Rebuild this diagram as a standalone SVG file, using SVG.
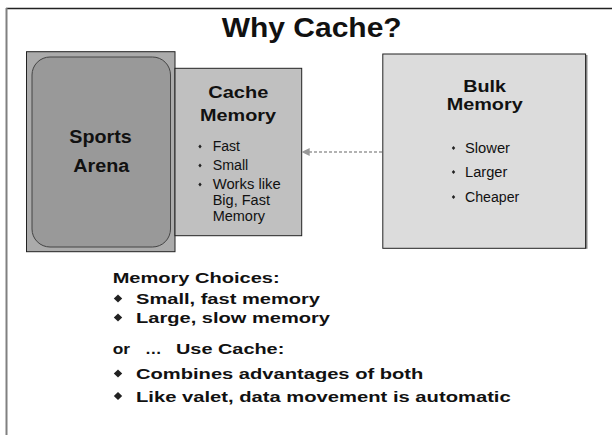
<svg xmlns="http://www.w3.org/2000/svg" width="612" height="435" viewBox="0 0 612 435">
<defs>
<style>
.t{font-family:"Liberation Sans",Arial,sans-serif;fill:#111}
.b{font-weight:bold}
.box{stroke:#222;stroke-width:1}
.bul{fill:#222}
</style>
<marker id="ah" viewBox="0 0 10 10" refX="9" refY="5" markerWidth="8" markerHeight="8" markerUnits="userSpaceOnUse" orient="auto">
<path d="M0,0 L10,5 L0,10 z" fill="#999"/>
</marker>
<polygon id="dm" points="0,-4 4.2,0 0,4 -4.2,0"/>
<polygon id="sd" points="0,-2.1 1.7,0 0,2.1 -1.7,0"/>
</defs>
<rect width="612" height="435" fill="#fff"/>
<g id="frame">
<line x1="6" y1="8.5" x2="612" y2="8.5" stroke="#222" stroke-width="1.5"/>
<line x1="6.5" y1="8" x2="6.5" y2="435" stroke="#808080" stroke-width="2"/>
</g>
<text id="title" class="t b" x="311.7" y="36.7" font-size="27" text-anchor="middle" textLength="180" lengthAdjust="spacingAndGlyphs">Why Cache?</text>
<g id="sports">
<rect class="box" x="26.5" y="51.7" width="148.5" height="200" fill="#ababab"/>
<rect x="32" y="57" width="138.5" height="190" rx="18" fill="#999" stroke="#444" stroke-width="1"/>
<text class="t b" x="100.5" y="142.7" font-size="17.5" text-anchor="middle" textLength="62.4" lengthAdjust="spacingAndGlyphs">Sports</text>
<text class="t b" x="101.3" y="172.3" font-size="17.5" text-anchor="middle" textLength="56" lengthAdjust="spacingAndGlyphs">Arena</text>
</g>
<g id="cache">
<rect class="box" x="175" y="68.3" width="126.7" height="167.4" fill="#c0c0c0"/>
<text class="t b" x="238.3" y="98.3" font-size="16.5" text-anchor="middle" textLength="60" lengthAdjust="spacingAndGlyphs">Cache</text>
<text class="t b" x="238" y="121" font-size="16.5" text-anchor="middle" textLength="76" lengthAdjust="spacingAndGlyphs">Memory</text>
<use href="#sd" class="bul" x="200" y="146.5"/>
<use href="#sd" class="bul" x="200" y="165.5"/>
<use href="#sd" class="bul" x="200" y="184.5"/>
<text class="t" x="212.7" y="151" font-size="15.5" textLength="27.3" lengthAdjust="spacingAndGlyphs">Fast</text>
<text class="t" x="212.7" y="170" font-size="15.5" textLength="35.6" lengthAdjust="spacingAndGlyphs">Small</text>
<text class="t" x="212.7" y="189.3" font-size="15.5" textLength="68" lengthAdjust="spacingAndGlyphs">Works like</text>
<text class="t" x="212.7" y="205" font-size="15.5" textLength="57.3" lengthAdjust="spacingAndGlyphs">Big, Fast</text>
<text class="t" x="212.7" y="220.7" font-size="15.5" textLength="52.3" lengthAdjust="spacingAndGlyphs">Memory</text>
</g>
<g id="bulk">
<rect x="585" y="55" width="2.5" height="193.8" fill="#8a8a8a"/>
<rect class="box" x="382.8" y="54" width="202.8" height="194.3" fill="#dcdcdc"/>
<text class="t b" x="484.7" y="92.3" font-size="17" text-anchor="middle" textLength="42.7" lengthAdjust="spacingAndGlyphs">Bulk</text>
<text class="t b" x="484.7" y="110" font-size="17" text-anchor="middle" textLength="76" lengthAdjust="spacingAndGlyphs">Memory</text>
<use href="#sd" class="bul" x="453.5" y="148"/>
<use href="#sd" class="bul" x="453.5" y="172"/>
<use href="#sd" class="bul" x="453.5" y="197"/>
<text class="t" x="465" y="152.7" font-size="15.5" textLength="45" lengthAdjust="spacingAndGlyphs">Slower</text>
<text class="t" x="465" y="176.7" font-size="15.5" textLength="42.3" lengthAdjust="spacingAndGlyphs">Larger</text>
<text class="t" x="465" y="201.7" font-size="15.5" textLength="54.3" lengthAdjust="spacingAndGlyphs">Cheaper</text>
</g>
<g id="connectors">
<line x1="382" y1="152" x2="302.5" y2="152" stroke="#999" stroke-width="1.5" stroke-dasharray="3,2" marker-end="url(#ah)"/>
</g>
<g id="notes">
<text class="t b" x="112.7" y="283.3" font-size="15" textLength="167" lengthAdjust="spacingAndGlyphs">Memory Choices:</text>
<use href="#dm" class="bul" x="118" y="298.5"/>
<text class="t b" x="136" y="304.3" font-size="15" textLength="184" lengthAdjust="spacingAndGlyphs">Small, fast memory</text>
<use href="#dm" class="bul" x="118" y="317.5"/>
<text class="t b" x="136" y="323.3" font-size="15" textLength="194" lengthAdjust="spacingAndGlyphs">Large, slow memory</text>
<text class="t b" x="112.7" y="354" font-size="15" textLength="17.3" lengthAdjust="spacingAndGlyphs">or</text>
<text class="t b" x="145" y="354" font-size="15" textLength="16.7" lengthAdjust="spacingAndGlyphs">…</text>
<text class="t b" x="176" y="354" font-size="15" textLength="108.3" lengthAdjust="spacingAndGlyphs">Use Cache:</text>
<use href="#dm" class="bul" x="118" y="373.5"/>
<text class="t b" x="136" y="379.3" font-size="15" textLength="287.3" lengthAdjust="spacingAndGlyphs">Combines advantages of both</text>
<use href="#dm" class="bul" x="118" y="395.9"/>
<text class="t b" x="136" y="401.7" font-size="15" textLength="374.7" lengthAdjust="spacingAndGlyphs">Like valet, data movement is automatic</text>
</g>
</svg>
